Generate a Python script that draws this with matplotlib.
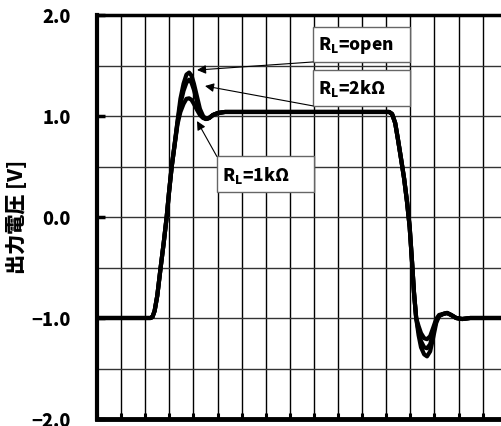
import matplotlib.pyplot as plt
from matplotlib.patches import Rectangle
import numpy as np

plt.rcParams['font.family'] = ['Noto Sans CJK JP', 'DejaVu Sans']
plt.rcParams['font.weight'] = 'bold'

# 時間軸 (目盛り数) と出力電圧 [V]
t = [0, 2.22, 2.30, 2.39, 2.50, 2.64, 2.77, 2.89, 2.99, 3.10, 3.22, 3.34,
     3.46, 3.59, 3.71, 3.82, 3.92, 4.02, 4.15, 4.27, 4.40, 4.52, 4.65, 4.81,
     5.02, 5.31, 12.12, 12.24, 12.37, 12.49, 12.61, 12.74, 12.86, 12.97, 13.07,
     13.15, 13.24, 13.34, 13.44, 13.57, 13.69, 13.82, 13.94, 14.07, 14.19,
     14.36, 14.52, 14.69, 14.90, 15.15, 15.48, 16.8]
v_open = [-1.0, -1.0, -0.99, -0.93, -0.78, -0.5, -0.25, 0.0, 0.25, 0.5, 0.72, 0.95,
          1.17, 1.32, 1.41, 1.43, 1.40, 1.32, 1.19, 1.07, 1.0, 0.97, 0.98, 1.01,
          1.03, 1.04, 1.04, 1.02, 0.93, 0.76, 0.58, 0.38, 0.15, -0.1, -0.45,
          -0.75, -1.0, -1.17, -1.29, -1.36, -1.38, -1.33, -1.2, -1.05, -0.98,
          -0.96, -0.95, -0.97, -1.0, -1.01, -1.0, -1.0]
v_2k = [-1.0, -1.0, -0.99, -0.93, -0.78, -0.5, -0.25, 0.0, 0.25, 0.5, 0.72, 0.94,
        1.12, 1.25, 1.33, 1.36, 1.33, 1.26, 1.14, 1.04, 0.99, 0.97, 0.98, 1.01,
        1.03, 1.04, 1.04, 1.02, 0.93, 0.76, 0.58, 0.38, 0.15, -0.1, -0.45,
        -0.75, -1.0, -1.13, -1.23, -1.29, -1.30, -1.26, -1.15, -1.03, -0.98,
        -0.96, -0.95, -0.97, -1.0, -1.01, -1.0, -1.0]
v_1k = [-1.0, -1.0, -0.99, -0.93, -0.78, -0.5, -0.25, 0.0, 0.25, 0.5, 0.71, 0.92,
        1.04, 1.12, 1.17, 1.175, 1.16, 1.12, 1.06, 1.01, 0.98, 0.97, 0.98, 1.01,
        1.03, 1.04, 1.04, 1.02, 0.93, 0.76, 0.58, 0.38, 0.15, -0.1, -0.45,
        -0.75, -1.0, -1.08, -1.15, -1.20, -1.21, -1.18, -1.10, -1.01, -0.97,
        -0.96, -0.95, -0.97, -1.0, -1.01, -1.0, -1.0]

labels = ['R$_\\mathregular{L}$=open', 'R$_\\mathregular{L}$=2k\u03a9', 'R$_\\mathregular{L}$=1k\u03a9']
# ラベル枠 (x0, y0, 幅, 高さ) と矢印 (先端, 根元)
boxes = [(8.96, 1.535, 4.03, 0.345), (8.96, 1.10, 4.03, 0.355), (4.97, 0.25, 4.03, 0.35)]
tips = [(4.15, 1.455), (4.48, 1.297), (4.15, 0.95)]
tails = [(8.96, 1.535), (8.96, 1.10), (4.97, 0.60)]

fig = plt.figure(figsize=(5.02, 4.27), dpi=100)
ax = fig.add_axes([97/502, 7/427, 405/502, 404/427])

for v in [v_open, v_2k, v_1k]:
    ax.plot(t, v, color='black', lw=3.0, zorder=3, solid_capstyle='round')

ax.set_xlim(0, 16.8)
ax.set_ylim(-2.0, 2.0)
ax.set_xticks(np.arange(0, 17, 1))
ax.set_xticklabels([])
ax.set_yticks([-2, -1, 0, 1, 2])
ax.set_yticklabels(['\u22122.0', '\u22121.0', '0.0', '1.0', '2.0'])
ax.set_yticks(np.arange(-2, 2.01, 0.5), minor=True)
ax.grid(True, which='both', axis='y', color='#333333', lw=1.0)
ax.grid(True, which='major', axis='x', color='black', lw=1.0)
ax.tick_params(axis='x', direction='in', length=4, width=2.2, top=False)
ax.tick_params(axis='y', which='major', direction='in', length=6, width=2.5,
               pad=19, labelsize=13)
ax.tick_params(axis='y', which='minor', length=0)
for lab in ax.get_yticklabels():
    lab.set_fontweight('heavy')
ax.spines['right'].set_visible(False)
ax.spines['left'].set_linewidth(3)
ax.spines['top'].set_linewidth(2.5)
ax.spines['bottom'].set_linewidth(3.5)
ax.set_axisbelow(True)

for lab, b, tip, tail in zip(labels, boxes, tips, tails):
    ax.add_patch(Rectangle((b[0], b[1]), b[2], b[3], facecolor='white',
                           edgecolor='#666666', lw=1.0, zorder=5))
    ax.text(b[0] + 0.2, b[1] + b[3] / 2, lab, fontsize=12.5, fontweight='heavy',
            ha='left', va='center', zorder=6)
    ax.annotate('', xy=tip, xytext=tail, zorder=6,
                arrowprops=dict(arrowstyle='-|>', color='black', lw=0.8,
                                mutation_scale=13, shrinkA=0, shrinkB=0))

fig.text(17/502, 1 - 217/427, '出力電圧 [V]', rotation=90, ha='center', va='center',
         fontsize=14.5, fontweight='heavy')

fig.savefig('out.png', dpi=100)
